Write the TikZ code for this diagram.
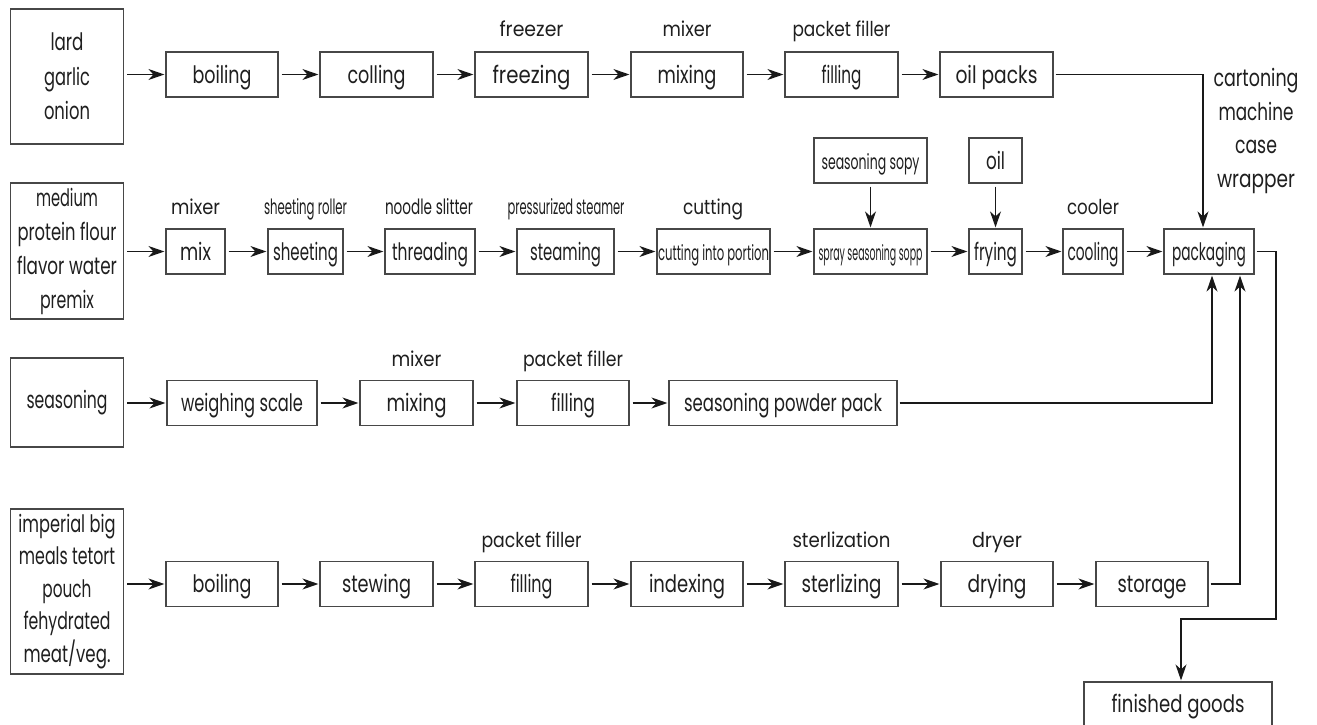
\documentclass[tikz,border=0pt]{standalone}
\usepackage{fontspec}
\setmainfont{Poppins}
\usetikzlibrary{arrows.meta,calc}
\newsavebox\fitbox
\newcommand\fitw[2]{\sbox\fitbox{#2}\pgfmathsetmacro\fitfac{#1/\the\wd\fitbox}\scalebox{\fitfac}[1]{\usebox\fitbox}}
\newcommand\bxfont{\fontsize{24}{33}\selectfont}
\newcommand\lbfont{\fontsize{20.5}{22}\selectfont}
\newcommand\smfont{\fontsize{21}{22}\selectfont}
\tikzset{
  box/.style={draw=black!72, line width=1.2pt, minimum height=45pt, inner sep=0pt,
    text height=20pt, text depth=3pt, font=\bxfont, text=black!88},
  tall/.style={draw=black!72, line width=1.2pt, minimum width=113pt, inner sep=0pt,
    align=center, text=black!88},
  lbl/.style={anchor=base, inner sep=0pt, font=\lbfont, text=black!88},
  arr/.style={-{Stealth[length=16pt,width=11pt,inset=5pt]}, line width=1.2pt, black!90,
    shorten <=3pt, shorten >=1pt},
  ln/.style={line width=1.2pt, black!90}
}
\begin{document}
\begin{tikzpicture}[x=1pt,y=-1pt]
\useasboundingbox (0,0) rectangle (1317,725);
\fill[white] (0,0) rectangle (1317,725);

% ---------- row 1 ----------
\node[tall, minimum height=135pt, font=\fontsize{24}{34.5}\selectfont] (lard) at (67,76.5)
  {\fitw{33}{lard}\\\fitw{46}{garlic}\\\fitw{46}{onion}};
\node[box, minimum width=112pt] (ra) at (222,74.5) {\fitw{59}{boiling}};
\node[box, minimum width=113pt] (rb) at (376.5,74.5) {\fitw{58}{colling}};
\node[box, minimum width=113pt] (rc) at (531.5,74.5) {\fitw{78}{freezing}};
\node[box, minimum width=112pt] (rd) at (687,74.5) {\fitw{59}{mixing}};
\node[box, minimum width=113pt] (re) at (841.5,74.5) {\fitw{40}{filling}};
\node[box, minimum width=113pt] (rf) at (996.5,74.5) {\fitw{82}{oil packs}};
\node[lbl] (la1) at (531.5,37) {\fitw{64}{freezer}};
\node[lbl] (la2) at (687,37) {\fitw{49}{mixer}};
\node[lbl] (la3) at (841.5,37) {\fitw{98}{packet filler}};
\node[align=center, inner sep=0pt, text=black!88, font=\fontsize{24}{33.5}\selectfont] (cart) at (1256,131)
  {\fitw{85}{cartoning}\\\fitw{75}{machine}\\\fitw{42}{case}\\\fitw{78}{wrapper}};

% ---------- row 2 ----------
\node[tall, minimum height=136pt, font=\fontsize{24}{34}\selectfont] (med) at (67,251)
  {\fitw{62}{medium}\\\fitw{99}{protein flour}\\\fitw{100}{flavor water}\\\fitw{54}{premix}};
\node[box, minimum width=59pt] (sa) at (195.5,251.5) {\fitw{31}{mix}};
\node[box, minimum width=75pt] (sb) at (305.5,251.5) {\fitw{65}{sheeting}};
\node[box, minimum width=90pt] (sc) at (430,251.5) {\fitw{76}{threading}};
\node[box, minimum width=97pt] (sd) at (565.5,251.5) {\fitw{71}{steaming}};
\node[box, minimum width=113pt] (se) at (713.5,251.5) {\smfont\fitw{111}{cutting into portion}};
\node[box, minimum width=113pt] (sf) at (870.5,251.5) {\smfont\fitw{104}{spray seasoning sopp}};
\node[box, minimum width=53pt] (sg) at (995.5,251.5) {\fitw{43}{frying}};
\node[box, minimum width=60pt] (sh) at (1093,251.5) {\fitw{51}{cooling}};
\node[box, minimum width=90pt] (pk) at (1209,251.5) {\fitw{74}{packaging}};
\node[box, minimum width=113pt] (sopy) at (870.5,160.5) {\smfont\fitw{98}{seasoning sopy}};
\node[box, minimum width=53pt] (oil) at (995.5,160.5) {\fitw{19}{oil}};
\node[lbl] (lb1) at (195.5,214) {\fitw{49}{mixer}};
\node[lbl, font=\smfont] (lb2) at (305.5,214) {\fitw{83}{sheeting roller}};
\node[lbl, font=\smfont] (lb3) at (429,214) {\fitw{88}{noodle slitter}};
\node[lbl, font=\smfont] (lb4) at (566,214) {\fitw{117}{pressurized steamer}};
\node[lbl] (lb5) at (713,214) {\fitw{60}{cutting}};
\node[lbl] (lb6) at (1093,214) {\fitw{52}{cooler}};

% ---------- row 3 ----------
\node[tall, minimum height=89pt, font=\bxfont] (sea) at (67,402.5) {\fitw{81}{seasoning}};
\node[box, minimum width=150pt] (ta) at (242,403) {\fitw{122}{weighing scale}};
\node[box, minimum width=113pt] (tb) at (416.5,403) {\fitw{60}{mixing}};
\node[box, minimum width=112pt] (tc) at (573,403) {\fitw{44}{filling}};
\node[box, minimum width=228pt] (td) at (783,403) {\fitw{198}{seasoning powder pack}};
\node[lbl] (lc1) at (416.5,366) {\fitw{50}{mixer}};
\node[lbl] (lc2) at (573,366) {\fitw{100}{packet filler}};

% ---------- row 4 ----------
\node[tall, minimum height=165pt, font=\fontsize{24}{32.4}\selectfont] (imp) at (67,591.5)
  {\fitw{97}{imperial big}\\\fitw{96}{meals tetort}\\\fitw{49}{pouch}\\\fitw{87}{fehydrated}\\\fitw{87}{meat/veg.}};
\node[box, minimum width=112pt] (ua) at (222,584) {\fitw{59}{boiling}};
\node[box, minimum width=113pt] (ub) at (376.5,584) {\fitw{69}{stewing}};
\node[box, minimum width=113pt] (uc) at (531.5,584) {\fitw{42}{filling}};
\node[box, minimum width=112pt] (ud) at (687,584) {\fitw{76}{indexing}};
\node[box, minimum width=113pt] (ue) at (841.5,584) {\fitw{80}{sterlizing}};
\node[box, minimum width=112pt] (uf) at (997,584) {\fitw{59}{drying}};
\node[box, minimum width=112pt] (ug) at (1152,584) {\fitw{69}{storage}};
\node[lbl] (ld1) at (531.5,547) {\fitw{100}{packet filler}};
\node[lbl] (ld2) at (841.5,547) {\fitw{98}{sterlization}};
\node[lbl] (ld3) at (997,547) {\fitw{50}{dryer}};

\node[box, minimum width=188pt, minimum height=46pt, text height=19pt, text depth=5pt] (fin) at (1178,705) {\fitw{133}{finished goods}};

% ---------- connectors ----------
\draw[arr] (lard.east |- ra.west) -- (ra.west);
\foreach \a/\b in {ra/rb, rb/rc, rc/rd, rd/re, re/rf} \draw[arr] (\a.east) -- (\b.west);
\draw[arr] (med.east |- sa.west) -- (sa.west);
\foreach \a/\b in {sa/sb, sb/sc, sc/sd, sd/se, se/sf, sf/sg, sg/sh, sh/pk} \draw[arr] (\a.east) -- (\b.west);
\draw[arr] (sopy) -- (sf);
\draw[arr] (oil) -- (sg);
\draw[arr] (sea.east |- ta.west) -- (ta.west);
\foreach \a/\b in {ta/tb, tb/tc, tc/td} \draw[arr] (\a.east) -- (\b.west);
\draw[arr] (imp.east |- ua.west) -- (ua.west);
\foreach \a/\b in {ua/ub, ub/uc, uc/ud, ud/ue, ue/uf, uf/ug} \draw[arr] (\a.east) -- (\b.west);

\draw[arr, shorten <=2pt] (rf.east) -| ([xshift=-6pt]pk.north);
\draw[arr, shorten <=2pt] (td.east) -| ([xshift=3pt]pk.south);
\draw[arr, shorten <=2pt] (ug.east) -| ([xshift=31pt]pk.south);
\coordinate (turn) at (1276,619);
\draw[arr, shorten <=2pt] (pk.east) -| (turn) -| ([xshift=3pt]fin.north);
\end{tikzpicture}
\end{document}
